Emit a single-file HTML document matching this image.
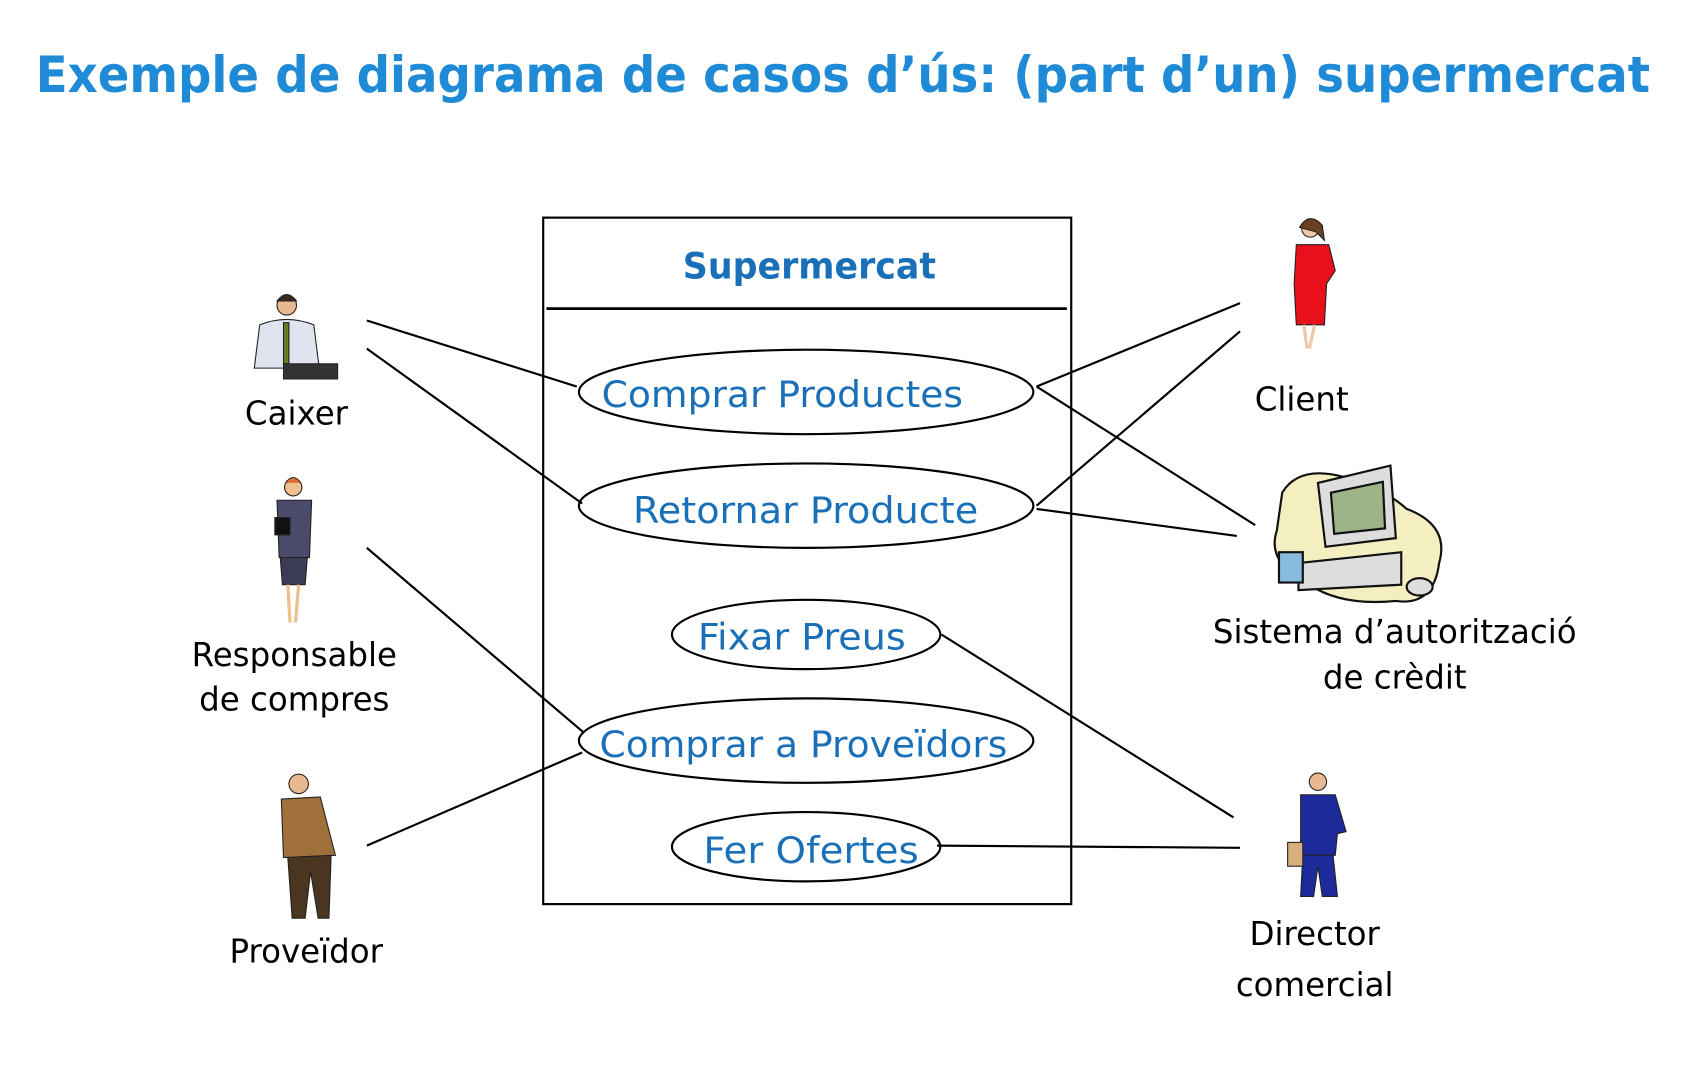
<!DOCTYPE html>
<html><head><meta charset="utf-8"><style>
html,body{margin:0;padding:0;background:#fff;width:1688px;height:1086px;overflow:hidden}
svg{display:block}
text{font-family:"DejaVu Sans","Liberation Sans",sans-serif}
</style></head><body>
<svg width="1688" height="1086" viewBox="0 0 1560 1003" preserveAspectRatio="none" xmlns="http://www.w3.org/2000/svg">
<text x="33" y="85" font-size="46" font-weight="bold" fill="#1f8ad6" textLength="1492" lengthAdjust="spacingAndGlyphs">Exemple de diagrama de casos d’ús: (part d’un) supermercat</text>
<rect x="502" y="201" width="488" height="634" fill="none" stroke="#000" stroke-width="2"/>
<line x1="505" y1="285" x2="986" y2="285" stroke="#000" stroke-width="2.5"/>
<text x="748" y="257" font-size="34" font-weight="bold" fill="#1a70b8" text-anchor="middle" textLength="234" lengthAdjust="spacingAndGlyphs">Supermercat</text>
<g fill="none" stroke="#000" stroke-width="2">
<ellipse cx="745" cy="362" rx="210" ry="39"/>
<ellipse cx="745" cy="467" rx="210" ry="39"/>
<ellipse cx="745" cy="586" rx="124" ry="32"/>
<ellipse cx="745" cy="684" rx="210" ry="39"/>
<ellipse cx="745" cy="782" rx="124" ry="32"/>
<line x1="339" y1="296" x2="533" y2="357"/>
<line x1="339" y1="322" x2="538" y2="465"/>
<line x1="339" y1="506" x2="540" y2="677"/>
<line x1="339" y1="781" x2="538" y2="695"/>
<line x1="958" y1="357" x2="1146" y2="280"/>
<line x1="958" y1="467" x2="1146" y2="306"/>
<line x1="958" y1="357" x2="1160" y2="485"/>
<line x1="958" y1="470" x2="1143" y2="495"/>
<line x1="870" y1="586" x2="1140" y2="755"/>
<line x1="866" y1="781" x2="1146" y2="783"/>
</g>
<g font-size="34" fill="#1a70b8">
<text x="556" y="376" textLength="334" lengthAdjust="spacingAndGlyphs">Comprar Productes</text>
<text x="585" y="483" textLength="319" lengthAdjust="spacingAndGlyphs">Retornar Producte</text>
<text x="645" y="600" textLength="192" lengthAdjust="spacingAndGlyphs">Fixar Preus</text>
<text x="554" y="699" textLength="377" lengthAdjust="spacingAndGlyphs">Comprar a Proveïdors</text>
<text x="650" y="797" textLength="199" lengthAdjust="spacingAndGlyphs">Fer Ofertes</text>
</g>
<g font-size="30" fill="#000" text-anchor="middle">
<text x="274" y="392">Caixer</text>
<text x="272" y="615">Responsable</text>
<text x="272" y="656">de compres</text>
<text x="283" y="889">Proveïdor</text>
<text x="1203" y="379">Client</text>
<text x="1289" y="594">Sistema d’autorització</text>
<text x="1289" y="636">de crèdit</text>
<text x="1215" y="873">Director</text>
<text x="1215" y="920">comercial</text>
</g>
<!-- Caixer -->
<g stroke="#222" stroke-width="1">
<circle cx="265" cy="282" r="9" fill="#e8b890"/>
<path d="M256 278 Q265 266 274 278 Z" fill="#3a2a1a"/>
<path d="M240 300 Q265 290 290 300 L295 340 L235 340 Z" fill="#dfe4ee"/>
<rect x="262" y="298" width="5" height="38" fill="#6a7a20"/>
<rect x="262" y="336" width="50" height="14" fill="#333"/>
</g>
<!-- Responsable -->
<g stroke="#222" stroke-width="1">
<circle cx="271" cy="450" r="8" fill="#f0c090"/>
<path d="M264 446 Q271 436 278 446" fill="#e07030"/>
<path d="M256 462 L288 462 L286 515 L258 515 Z" fill="#4a4a6a"/>
<path d="M259 515 L284 515 L282 540 L261 540 Z" fill="#3c3c58"/>
<line x1="266" y1="540" x2="268" y2="575" stroke="#f0c090" stroke-width="3"/>
<line x1="276" y1="540" x2="273" y2="575" stroke="#f0c090" stroke-width="3"/>
<rect x="254" y="478" width="14" height="16" fill="#111"/>
</g>
<!-- Proveidor -->
<g stroke="#222" stroke-width="1">
<circle cx="276" cy="724" r="9" fill="#e8b890"/>
<path d="M260 738 L296 736 L310 790 L262 792 Z" fill="#a0703a"/>
<path d="M266 792 L306 790 L304 848 L294 848 L287 805 L282 848 L270 848 Z" fill="#4a3520"/>
</g>
<!-- Client -->
<g stroke="#222" stroke-width="1">
<circle cx="1211" cy="211" r="8" fill="#f0c8a8"/>
<path d="M1201 210 Q1210 195 1222 208 L1224 222 L1216 214 Z" fill="#6a4020"/>
<path d="M1198 226 L1228 226 L1234 250 L1226 262 L1224 300 L1198 300 L1196 262 Z" fill="#e8101a"/>
<line x1="1205" y1="300" x2="1208" y2="322" stroke="#f0c8a8" stroke-width="3"/>
<line x1="1215" y1="300" x2="1210" y2="322" stroke="#f0c8a8" stroke-width="3"/>
</g>
<!-- Computer -->
<g stroke="#111" stroke-width="2">
<path d="M1185 455 Q1200 430 1240 440 Q1275 448 1300 470 Q1340 485 1330 520 Q1325 560 1290 555 Q1240 560 1210 540 Q1170 520 1180 490 Z" fill="#f3efc0"/>
<path d="M1218 446 L1285 430 L1290 497 L1225 505 Z" fill="#ddd"/>
<path d="M1230 455 L1278 445 L1280 488 L1233 493 Z" fill="#9eb488"/>
<path d="M1200 520 L1295 510 L1295 540 L1200 545 Z" fill="#ddd"/>
<ellipse cx="1312" cy="542" rx="12" ry="8" fill="#ddd"/>
<rect x="1182" y="510" width="22" height="28" fill="#8bd"/>
</g>
<!-- Director -->
<g stroke="#222" stroke-width="1">
<circle cx="1218" cy="722" r="8" fill="#e8b890"/>
<path d="M1202 734 L1234 734 L1244 768 L1236 770 L1234 790 L1202 790 Z" fill="#1c2a9a"/>
<path d="M1204 790 L1232 790 L1236 828 L1222 828 L1218 800 L1214 828 L1202 828 Z" fill="#1c2a9a"/>
<rect x="1190" y="778" width="14" height="22" fill="#d8b080"/>
</g>
</svg>
</body></html>
